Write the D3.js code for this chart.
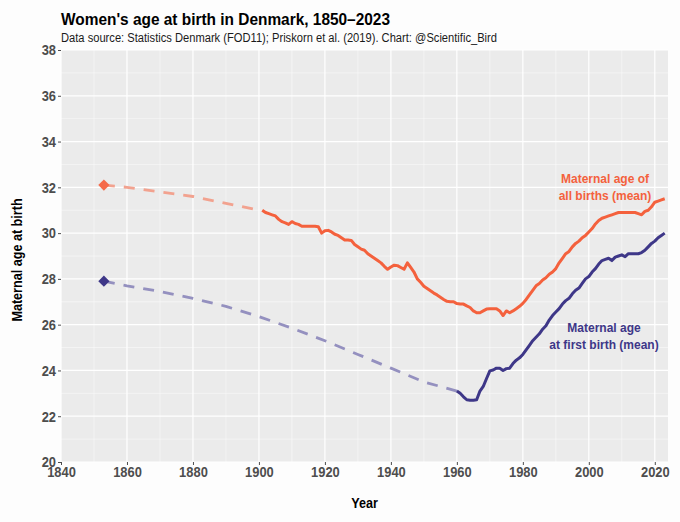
<!DOCTYPE html>
<html>
<head>
<meta charset="utf-8">
<script src="https://cdn.jsdelivr.net/npm/d3@7"></script>
<style>
  body { margin: 0; background: #fdfdfd; }
  svg { display: block; }
  text { font-family: "Liberation Sans", Arial, sans-serif; }
</style>
</head>
<body>
<svg id="chart" width="680" height="522"></svg>
<script>
// all births (mean), early estimate (dashed)
let allDashYears = [1853, 1860, 1870, 1880, 1890, 1900];
let allDashValues = [32.1, 32.0, 31.8, 31.6, 31.3, 31.0];

// all births (mean), Statistics Denmark
let allYears = [1901, 1902, 1903, 1904, 1905, 1906, 1907, 1908, 1909, 1910,
  1911, 1912, 1913, 1914, 1915, 1916, 1917, 1918, 1919, 1920,
  1921, 1922, 1923, 1924, 1925, 1926, 1927, 1928, 1929, 1930,
  1931, 1932, 1933, 1934, 1935, 1936, 1937, 1938, 1939, 1940,
  1941, 1942, 1943, 1944, 1945, 1946, 1947, 1948, 1949, 1950,
  1951, 1952, 1953, 1954, 1955, 1956, 1957, 1958, 1959, 1960,
  1961, 1962, 1963, 1964, 1965, 1966, 1967, 1968, 1969, 1970,
  1971, 1972, 1973, 1974, 1975, 1976, 1977, 1978, 1979, 1980,
  1981, 1982, 1983, 1984, 1985, 1986, 1987, 1988, 1989, 1990,
  1991, 1992, 1993, 1994, 1995, 1996, 1997, 1998, 1999, 2000,
  2001, 2002, 2003, 2004, 2005, 2006, 2007, 2008, 2009, 2010,
  2011, 2012, 2013, 2014, 2015, 2016, 2017, 2018, 2019, 2020,
  2021, 2022, 2023];
let allValues = [31.0, 30.9, 30.85, 30.8, 30.75, 30.6, 30.5, 30.45, 30.38, 30.5,
  30.42, 30.38, 30.3, 30.3, 30.3, 30.3, 30.3, 30.28, 30.0, 30.1,
  30.12, 30.05, 29.95, 29.9, 29.8, 29.7, 29.7, 29.68, 29.5, 29.4,
  29.3, 29.25, 29.1, 29.0, 28.9, 28.8, 28.7, 28.55, 28.42, 28.52,
  28.6, 28.58, 28.5, 28.42, 28.7, 28.5, 28.3, 28.0, 27.85, 27.68,
  27.58, 27.48, 27.38, 27.3, 27.2, 27.1, 27.02, 27.0, 27.0, 26.92,
  26.9, 26.9, 26.82, 26.75, 26.6, 26.52, 26.52, 26.6, 26.68, 26.7,
  26.7, 26.7, 26.6, 26.4, 26.6, 26.52, 26.6, 26.7, 26.8, 26.93,
  27.1, 27.3, 27.5, 27.7, 27.8, 27.95, 28.05, 28.2, 28.3, 28.45,
  28.7, 28.9, 29.1, 29.2, 29.4, 29.55, 29.65, 29.8, 29.9, 30.05,
  30.2, 30.4, 30.55, 30.65, 30.7, 30.75, 30.8, 30.85, 30.9, 30.9,
  30.9, 30.9, 30.9, 30.9, 30.85, 30.8, 30.95, 31.0, 31.15, 31.35,
  31.4, 31.45, 31.5];

// first birth (mean), early estimate (dashed)
let firstDashYears = [1853, 1860, 1870, 1880, 1890, 1900, 1910, 1920, 1930, 1940, 1950, 1960];
let firstDashValues = [27.9, 27.7, 27.45, 27.15, 26.8, 26.35, 25.85, 25.3, 24.7, 24.1, 23.5, 23.1];

// first birth (mean), Statistics Denmark
let firstYears = [1960, 1961, 1962, 1963, 1964, 1965, 1966, 1967, 1968, 1969, 1970,
  1971, 1972, 1973, 1974, 1975, 1976, 1977, 1978, 1979, 1980,
  1981, 1982, 1983, 1984, 1985, 1986, 1987, 1988, 1989, 1990,
  1991, 1992, 1993, 1994, 1995, 1996, 1997, 1998, 1999, 2000,
  2001, 2002, 2003, 2004, 2005, 2006, 2007, 2008, 2009, 2010,
  2011, 2012, 2013, 2014, 2015, 2016, 2017, 2018, 2019, 2020,
  2021, 2022, 2023];
let firstValues = [23.1, 23.0, 22.85, 22.72, 22.7, 22.7, 22.72, 23.1, 23.3, 23.65, 23.98,
  24.02, 24.1, 24.1, 24.0, 24.08, 24.1, 24.3, 24.45, 24.55, 24.7,
  24.9, 25.1, 25.3, 25.45, 25.6, 25.8, 25.95, 26.2, 26.4, 26.55,
  26.7, 26.9, 27.05, 27.15, 27.35, 27.5, 27.6, 27.8, 28.0, 28.1,
  28.3, 28.45, 28.65, 28.8, 28.85, 28.9, 28.8, 28.95, 29.0, 29.05,
  28.97, 29.1, 29.1, 29.1, 29.1, 29.15, 29.25, 29.4, 29.55, 29.65,
  29.8, 29.9, 30.0];

// tick labels
let xTicks = [1840, 1860, 1880, 1900, 1920, 1940, 1960, 1980, 2000, 2020];
let yTicks = [20, 22, 24, 26, 28, 30, 32, 34, 36, 38];

let orange = "#f4613d";
let purple = "#3e3788";

let svg = d3.select("#chart");

// squeeze text horizontally, stands in for a narrow font
function narrow(sel, k) {
  sel.each(function() {
    let len = this.getComputedTextLength();
    d3.select(this).attr("textLength", len * k).attr("lengthAdjust", "spacingAndGlyphs");
  });
}

// plot area
let pLeft = 61, pRight = 668, pTop = 50, pBottom = 462;

let x = d3.scaleLinear().domain([1840, 2024]).range([pLeft, pRight]);
let y = d3.scaleLinear().domain([20, 38]).range([pBottom, pTop]);

// panel background
svg.append("rect")
  .attr("x", pLeft).attr("y", pTop)
  .attr("width", pRight - pLeft).attr("height", pBottom - pTop)
  .attr("fill", "#ebebeb");

// minor grid
let xMinor = d3.range(1850, 2024, 20);
let yMinor = d3.range(21, 38, 2);
svg.selectAll(".xminor").data(xMinor).enter().append("line")
  .attr("x1", d => x(d)).attr("x2", d => x(d))
  .attr("y1", pTop).attr("y2", pBottom)
  .attr("stroke", "#fafafa").attr("stroke-width", 0.6);
svg.selectAll(".yminor").data(yMinor).enter().append("line")
  .attr("x1", pLeft).attr("x2", pRight)
  .attr("y1", d => y(d)).attr("y2", d => y(d))
  .attr("stroke", "#fafafa").attr("stroke-width", 0.6);

// major grid
svg.selectAll(".xmajor").data(xTicks).enter().append("line")
  .attr("x1", d => x(d)).attr("x2", d => x(d))
  .attr("y1", pTop).attr("y2", pBottom)
  .attr("stroke", "#ffffff").attr("stroke-width", 1.2);
svg.selectAll(".ymajor").data(yTicks).enter().append("line")
  .attr("x1", pLeft).attr("x2", pRight)
  .attr("y1", d => y(d)).attr("y2", d => y(d))
  .attr("stroke", "#ffffff").attr("stroke-width", 1.2);

// axes
let xAxis = svg.append("g")
  .attr("transform", `translate(0,${pBottom})`)
  .call(d3.axisBottom(x).tickValues(xTicks).tickFormat(d3.format("d")).tickSize(3).tickPadding(1));
let yAxis = svg.append("g")
  .attr("transform", `translate(${pLeft},0)`)
  .call(d3.axisLeft(y).tickValues(yTicks).tickSize(3).tickPadding(2));

[xAxis, yAxis].forEach(ax => {
  ax.select(".domain").remove();
  ax.selectAll(".tick line").attr("stroke", "#4d4d4d");
  ax.selectAll(".tick text")
    .attr("font-family", "'Liberation Sans', Arial, sans-serif")
    .attr("fill", "#4d4d4d")
    .attr("font-size", 15)
    .attr("font-weight", "bold")
    .call(narrow, 0.86);
});

// lines
let line = d3.line().x(d => x(d[0])).y(d => y(d[1]));

svg.append("path")
  .datum(d3.zip(allDashYears, allDashValues))
  .attr("d", line)
  .attr("fill", "none")
  .attr("stroke", "#f2a28f")
  .attr("stroke-width", 2.8)
  .attr("stroke-dasharray", "11,9");

svg.append("path")
  .datum(d3.zip(firstDashYears, firstDashValues))
  .attr("d", line)
  .attr("fill", "none")
  .attr("stroke", "#9490bf")
  .attr("stroke-width", 2.8)
  .attr("stroke-dasharray", "11,9");

svg.append("path")
  .datum(d3.zip(allYears, allValues))
  .attr("d", line)
  .attr("fill", "none")
  .attr("stroke", orange)
  .attr("stroke-width", 3)
  .attr("stroke-linejoin", "round");

svg.append("path")
  .datum(d3.zip(firstYears, firstValues))
  .attr("d", line)
  .attr("fill", "none")
  .attr("stroke", purple)
  .attr("stroke-width", 3)
  .attr("stroke-linejoin", "round");

// diamonds for the 1853 estimates
let diamond = d3.symbol().type(d3.symbolDiamond2).size(80);
svg.append("path")
  .attr("d", diamond)
  .attr("transform", `translate(${x(allDashYears[0])},${y(allDashValues[0])})`)
  .attr("fill", "#f56a4a");
svg.append("path")
  .attr("d", diamond)
  .attr("transform", `translate(${x(firstDashYears[0])},${y(firstDashValues[0])})`)
  .attr("fill", purple);

// line labels
let allLabel = svg.append("text")
  .attr("font-weight", "bold")
  .attr("font-size", 12)
  .attr("fill", orange)
  .attr("text-anchor", "middle");
allLabel.append("tspan").attr("x", 605).attr("y", 183).text("Maternal age of");
allLabel.append("tspan").attr("x", 605).attr("y", 200).text("all births (mean)");

let firstLabel = svg.append("text")
  .attr("font-weight", "bold")
  .attr("font-size", 12)
  .attr("fill", purple)
  .attr("text-anchor", "middle");
firstLabel.append("tspan").attr("x", 604).attr("y", 332).text("Maternal age");
firstLabel.append("tspan").attr("x", 604).attr("y", 349).text("at first birth (mean)");

// titles
svg.append("text")
  .attr("x", pLeft).attr("y", 25)
  .attr("font-size", 17)
  .attr("font-weight", "bold")
  .attr("fill", "#000")
  .text("Women's age at birth in Denmark, 1850\u20132023")
  .attr("textLength", 329)
  .attr("lengthAdjust", "spacingAndGlyphs");

svg.append("text")
  .attr("x", pLeft).attr("y", 42)
  .attr("font-size", 12.5)
  .attr("fill", "#1a1a1a")
  .text("Data source: Statistics Denmark (FOD11); Priskorn et al. (2019). Chart: @Scientific_Bird")
  .attr("textLength", 436)
  .attr("lengthAdjust", "spacingAndGlyphs");

// axis titles
svg.append("text")
  .attr("x", (pLeft + pRight) / 2).attr("y", 508)
  .attr("text-anchor", "middle")
  .attr("font-size", 15)
  .attr("font-weight", "bold")
  .text("Year")
  .call(narrow, 0.84);

svg.append("text")
  .attr("transform", `translate(22,${(pTop + pBottom) / 2 + 4}) rotate(-90)`)
  .attr("text-anchor", "middle")
  .attr("font-size", 15)
  .attr("font-weight", "bold")
  .text("Maternal age at birth")
  .call(narrow, 0.84);
</script>
</body>
</html>
